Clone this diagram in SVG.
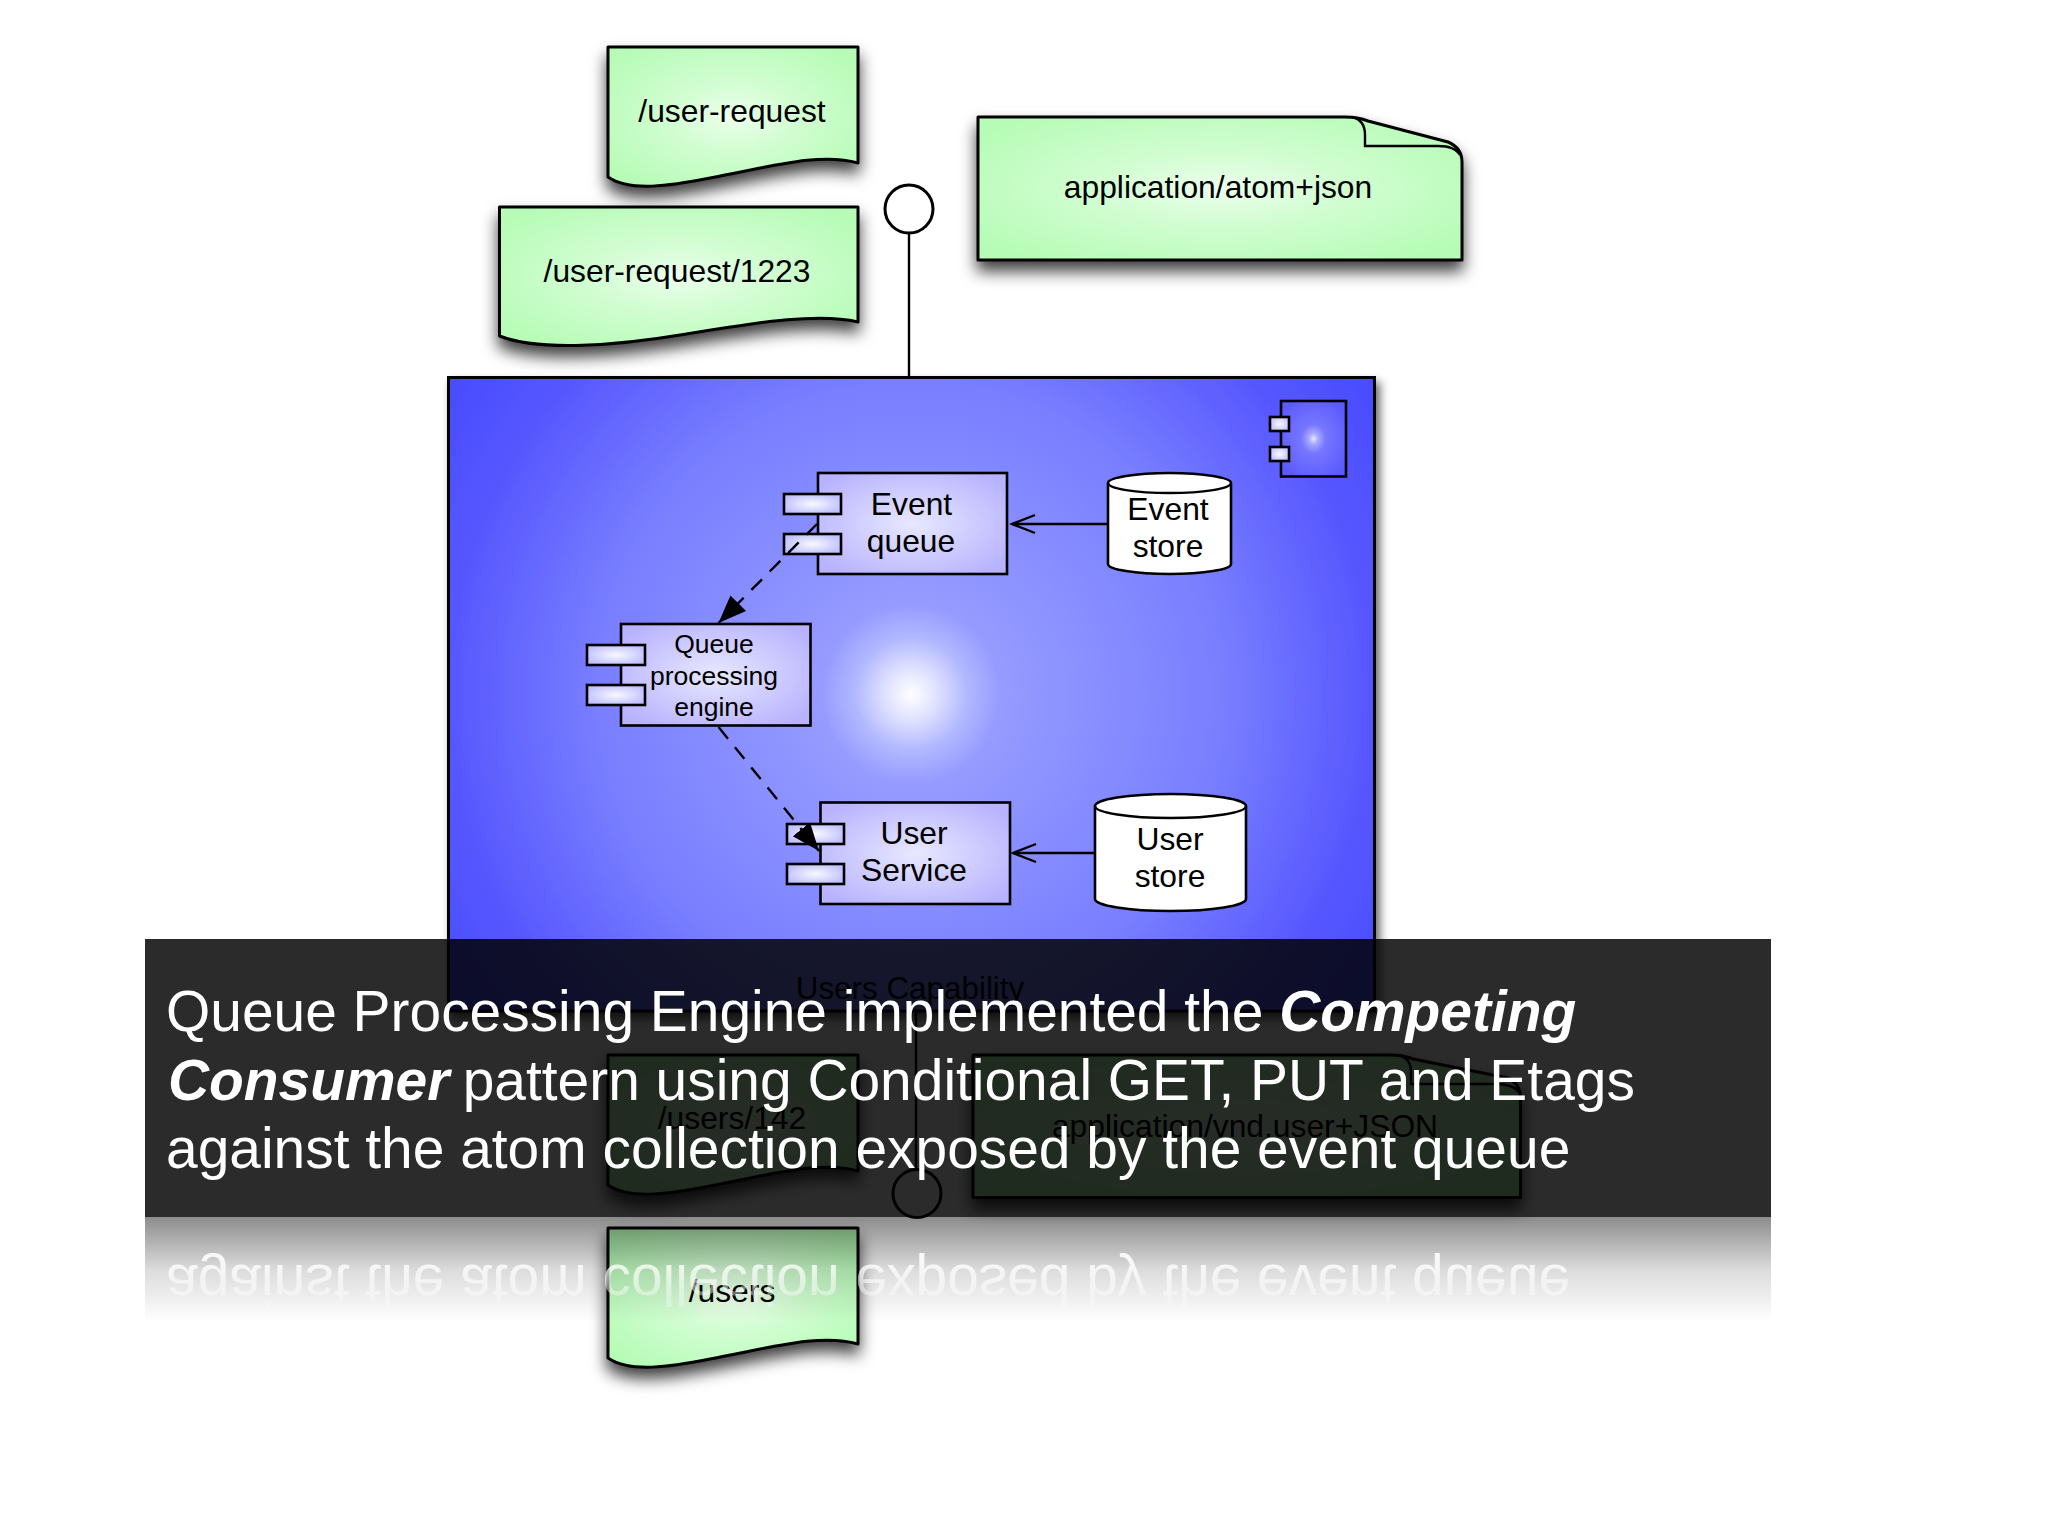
<svg xmlns="http://www.w3.org/2000/svg" xmlns:xlink="http://www.w3.org/1999/xlink" width="2048" height="1536" viewBox="0 0 2048 1536">
<style>
text{font-family:"Liberation Sans",Arial,sans-serif;fill:#000;text-anchor:middle}
.t32{font-size:31.8px}
.t31{font-size:31.4px}
.t26{font-size:26.5px}
.doc{fill:url(#green);stroke:#000;stroke-width:3;stroke-linejoin:round}
.comp{fill:url(#lav);stroke:#000;stroke-width:2.6}
.tab{fill:url(#tabg);stroke:#000;stroke-width:2.6}
.cyl{fill:#fff;stroke:#000;stroke-width:2.6}
.line{fill:none;stroke:#000;stroke-width:2.4}
.dash{stroke-dasharray:15 11}
.cap{font-size:56.900px;fill:#fff;text-anchor:start}
.capb{font-weight:bold;font-style:italic}
</style>
<defs>
<radialGradient id="green" cx="50%" cy="50%" r="62%"><stop offset="0" stop-color="#ecffec"/><stop offset=".4" stop-color="#d2fdd2"/><stop offset="1" stop-color="#b6fcb6"/></radialGradient>
<radialGradient id="lav" cx="50%" cy="50%" r="62%"><stop offset="0" stop-color="#e8e8ff"/><stop offset=".5" stop-color="#cfcdff"/><stop offset="1" stop-color="#b8b2ff"/></radialGradient>
<radialGradient id="tabg" cx="50%" cy="50%" r="55%"><stop offset="0" stop-color="#f8f8ff"/><stop offset="1" stop-color="#c0c0ff"/></radialGradient>
<radialGradient id="blue" gradientUnits="userSpaceOnUse" cx="911" cy="694" r="561"><stop offset="0" stop-color="#fff"/><stop offset=".05" stop-color="#dcdfff"/><stop offset=".1" stop-color="#b2b8ff"/><stop offset=".16" stop-color="#959bff"/><stop offset=".56" stop-color="#787eff"/><stop offset=".83" stop-color="#5656ff"/><stop offset="1" stop-color="#474cff"/></radialGradient>
<radialGradient id="icon" cx="50%" cy="50%" r="60%"><stop offset="0" stop-color="#e8e8ff"/><stop offset=".12" stop-color="#a8a8ff"/><stop offset=".32" stop-color="#7676ff"/><stop offset="1" stop-color="#5a5aff"/></radialGradient>
<linearGradient id="reflShade" gradientUnits="userSpaceOnUse" x1="0" y1="1217" x2="0" y2="1322"><stop offset="0" stop-color="#000" stop-opacity=".45"/><stop offset=".5" stop-color="#000" stop-opacity=".14"/><stop offset="1" stop-color="#000" stop-opacity="0"/></linearGradient>
<linearGradient id="reflMaskG" gradientUnits="userSpaceOnUse" x1="0" y1="1217" x2="0" y2="1325"><stop offset="0" stop-color="#fff"/><stop offset=".4" stop-color="#ddd"/><stop offset="1" stop-color="#000"/></linearGradient>
<mask id="reflMask" maskUnits="userSpaceOnUse" x="145" y="1217" width="1626" height="110"><rect x="145" y="1217" width="1626" height="110" fill="url(#reflMaskG)"/></mask>
<filter id="sh" x="-15%" y="-15%" width="130%" height="155%"><feDropShadow dx="0" dy="10" stdDeviation="8" flood-color="#000" flood-opacity=".75"/></filter>
<filter id="shBox" x="-5%" y="-5%" width="110%" height="110%"><feDropShadow dx="4" dy="6" stdDeviation="5" flood-color="#000" flood-opacity=".6"/></filter>
<marker id="filled" markerUnits="userSpaceOnUse" markerWidth="30" markerHeight="26" refX="28" refY="13" orient="auto"><path d="M0 2L28 13L0 24z" fill="#000"/></marker>
<marker id="open" markerUnits="userSpaceOnUse" markerWidth="28" markerHeight="24" refX="25" refY="12" orient="auto"><path d="M2 3L25 12L2 21" fill="none" stroke="#000" stroke-width="2.4"/></marker>
<path id="docShape" d="M608 47H858V163C820 152 770 167 710 178C670 186 630 192 608 177Z"/>
</defs>

<g id="user-request"><use href="#docShape" class="doc" filter="url(#sh)"/><text class="t32" x="732" y="122">/user-request</text></g>
<g id="user-request-1223"><path class="doc" filter="url(#sh)" d="M499.5 207H858V322C815 312 750 324 680 335C620 345 540 352 499.5 336Z"/><text class="t32" x="677" y="282">/user-request/1223</text></g>
<g id="note-atom"><path class="doc" filter="url(#sh)" d="M978 117H1345Q1358 117 1368 121L1448 142Q1462 148 1462 162V260H978Z"/><path class="line" d="M1352 117Q1365 120 1365 135V146H1438Q1455 146 1460 155"/><text class="t32" x="1218" y="198">application/atom+json</text></g>

<g id="users-capability">
<rect x="448.5" y="377.5" width="926" height="633.5" fill="url(#blue)" stroke="#000" stroke-width="3" filter="url(#shBox)"/>
<text class="t31" x="910" y="999">Users Capability</text>
<g id="capability-icon"><rect x="1281" y="401" width="65" height="75.500" fill="url(#icon)" stroke="#000" stroke-width="2.600"/><rect class="tab" x="1270" y="417" width="19" height="14"/><rect class="tab" x="1270" y="447" width="19" height="14"/></g>
</g>

<g id="event-queue"><rect class="comp" x="818" y="473" width="189" height="101"/><rect class="tab" x="784" y="494" width="57" height="20"/><rect class="tab" x="784" y="534" width="57" height="20"/><text class="t32" x="911.500" y="515">Event</text><text class="t32" x="911" y="552">queue</text></g>
<g id="event-store"><path class="cyl" d="M1108 483A61.500 10 0 0 1 1231 483V564A61.500 10 0 0 1 1108 564Z"/><path class="line" d="M1108 483A61.500 10 0 0 0 1231 483"/><text class="t32" x="1168" y="520">Event</text><text class="t32" x="1168" y="557">store</text></g>
<g id="queue-engine"><rect class="comp" x="621" y="624" width="189.500" height="101.500"/><rect class="tab" x="587" y="645" width="58" height="20"/><rect class="tab" x="587" y="685" width="58" height="20"/><text class="t26" x="714" y="653">Queue</text><text class="t26" x="714" y="685">processing</text><text class="t26" x="714" y="716">engine</text></g>
<g id="user-service"><rect class="comp" x="820.500" y="802.500" width="189.500" height="101.500"/><rect class="tab" x="787" y="824" width="57" height="20"/><rect class="tab" x="787" y="864" width="57" height="20"/><text class="t32" x="914" y="844">User</text><text class="t32" x="914" y="881">Service</text></g>
<g id="user-store"><path class="cyl" d="M1095 806A75.500 12 0 0 1 1246 806V899A75.500 12 0 0 1 1095 899Z"/><path class="line" d="M1095 806A75.500 12 0 0 0 1246 806"/><text class="t32" x="1170" y="850">User</text><text class="t32" x="1170" y="887">store</text></g>

<g id="users-142"><use href="#docShape" class="doc" filter="url(#sh)" transform="translate(0 1008)"/><text class="t32" x="732" y="1129">/users/142</text></g>
<g id="users"><use href="#docShape" class="doc" filter="url(#sh)" transform="translate(0 1181)"/><text class="t32" x="732" y="1302">/users</text></g>
<g id="note-user"><path class="doc" filter="url(#sh)" d="M973 1055H1390Q1403 1055 1413 1059L1508 1078Q1520 1083 1520.500 1098V1197.500H973Z"/><path class="line" d="M1398 1055Q1411 1058 1411 1072V1084H1495Q1513 1084 1519 1092"/><text class="t32" x="1245" y="1137">application/vnd.user+JSON</text></g>
<g id="port-top"><circle cx="909" cy="209" r="24" fill="#fff" stroke="#000" stroke-width="3"/></g>
<g id="port-bottom"><circle cx="917" cy="1193.500" r="24" fill="#fff" stroke="#000" stroke-width="3"/></g>

<g id="connectors">
<line class="line" x1="909" y1="233" x2="909" y2="377"/>
<line class="line" x1="916" y1="1011" x2="916" y2="1170"/>
<line class="line" x1="1108" y1="524" x2="1012" y2="524" marker-end="url(#open)"/>
<line class="line" x1="1095" y1="853" x2="1013" y2="853" marker-end="url(#open)"/>
<line class="line dash" x1="817" y1="524" x2="718.500" y2="623" marker-end="url(#filled)"/>
<line class="line dash" x1="718.500" y1="727" x2="819" y2="851" marker-end="url(#filled)"/>
</g>

<g id="reflection">
<rect x="145" y="1217" width="1626" height="108" fill="url(#reflShade)"/>
<g mask="url(#reflMask)"><use href="#caption" transform="translate(0 2433) scale(1 -1)"/></g>
</g>
<g id="banner">
<rect x="145" y="939" width="1626" height="278" fill="#000" fill-opacity=".83"/>
<g id="caption">
<text class="cap" x="166" y="1031">Queue Processing Engine implemented the <tspan class="capb">Competing</tspan></text>
<text class="cap" x="168" y="1100"><tspan class="capb">Consumer</tspan><tspan dx="-2.500"> pattern using Conditional GET, PUT and Etags</tspan></text>
<text class="cap" x="166" y="1168">against the atom collection exposed by the event queue</text>
</g>
</g>
</svg>
